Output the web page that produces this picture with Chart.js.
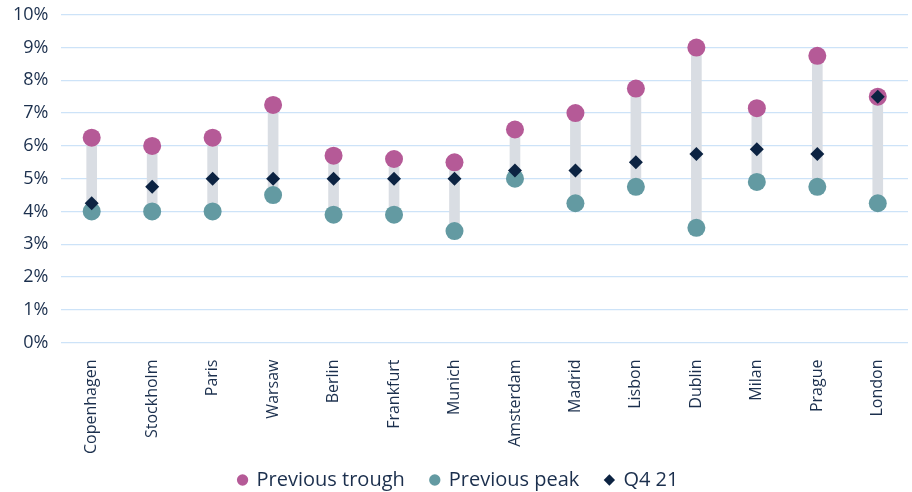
<!DOCTYPE html>
<html>
<head>
<meta charset="utf-8">
<script src="https://cdn.jsdelivr.net/npm/chart.js@4/dist/chart.umd.min.js"></script>
<style>
  html, body { margin: 0; padding: 0; background: #ffffff; overflow: hidden; }
  #wrap { width: 912px; height: 492px; overflow: hidden; position: relative; }
  #c { position: absolute; left: 0; top: -9px; }
</style>
</head>
<body>
<div id="wrap"><canvas id="c" width="917" height="501"></canvas></div>
<script>
// Prime office yields by city (%)
const cities = ["Copenhagen", "Stockholm", "Paris", "Warsaw", "Berlin", "Frankfurt", "Munich",
                "Amsterdam", "Madrid", "Lisbon", "Dublin", "Milan", "Prague", "London"];
const previousTrough = [6.25, 6.0, 6.25, 7.25, 5.7, 5.6, 5.5, 6.5, 7.0, 7.75, 9.0, 7.15, 8.75, 7.5];
const previousPeak   = [4.0, 4.0, 4.0, 4.5, 3.9, 3.9, 3.4, 5.0, 4.25, 4.75, 3.5, 4.9, 4.75, 4.25];
const q4_21          = [4.25, 4.75, 5.0, 5.0, 5.0, 5.0, 5.0, 5.25, 5.25, 5.5, 5.75, 5.9, 5.75, 7.5];
const yTicks = [0, 1, 2, 3, 4, 5, 6, 7, 8, 9, 10];

// Range bar spanning all three readings for each city
const ranges = cities.map((_, i) => {
  const vals = [previousTrough[i], previousPeak[i], q4_21[i]];
  return [Math.min(...vals), Math.max(...vals)];
});

const textColor = "#1b2f4d";
const font = "'Open Sans', 'Noto Sans', sans-serif";

// Keep wide gaps between legend items while trimming the legend's vertical footprint
const LEGEND_TRIM = 21;
const LEGEND_LIFT = 19;
const compactLegend = {
  id: "compactLegend",
  beforeLayout(chart) {
    const lg = chart.legend;
    if (!lg || lg._compact) return;
    lg._compact = true;
    const fit = lg.fit;
    lg.fit = function () {
      fit.call(this);
      this.height = Math.max(0, this.height - LEGEND_TRIM);
    };
    const draw = lg.draw;
    lg.draw = function () {
      this.top -= LEGEND_LIFT;
      draw.call(this);
      this.top += LEGEND_LIFT;
    };
  }
};

new Chart(document.getElementById("c"), {
  type: "bar",
  data: {
    labels: cities,
    datasets: [
      {
        label: "range",
        data: ranges,
        backgroundColor: "#d9dde3",
        borderWidth: 0,
        barThickness: 10,
        order: 4
      },
      {
        type: "line",
        label: "Previous trough",
        data: previousTrough,
        showLine: false,
        pointStyle: "circle",
        pointRadius: 9,
        pointHoverRadius: 9,
        backgroundColor: "#b55a97",
        borderColor: "#b55a97",
        borderWidth: 0,
        order: 3
      },
      {
        type: "line",
        label: "Previous peak",
        data: previousPeak,
        showLine: false,
        pointStyle: "circle",
        pointRadius: 9,
        pointHoverRadius: 9,
        backgroundColor: "#639aa2",
        borderColor: "#639aa2",
        borderWidth: 0,
        order: 2
      },
      {
        type: "line",
        label: "Q4 21",
        data: q4_21,
        showLine: false,
        pointStyle: "rectRot",
        pointRadius: 7,
        pointHoverRadius: 7,
        backgroundColor: "#0c2342",
        borderColor: "#0c2342",
        borderWidth: 0,
        order: 1
      }
    ]
  },
  plugins: [compactLegend],
  options: {
    responsive: false,
    animation: false,
    layout: { padding: { left: 0, right: 0, top: -15, bottom: -6 } },
    plugins: {
      tooltip: { enabled: false },
      legend: {
        position: "bottom",
        labels: {
          filter: (item) => item.text !== "range",
          sort: (a, b) => a.datasetIndex - b.datasetIndex,
          usePointStyle: true,
          boxWidth: 8,
          boxHeight: 8,
          padding: 26,
          color: textColor,
          font: { family: font, size: 20 }
        }
      }
    },
    scales: {
      x: {
        offset: true,
        grid: { display: false },
        border: { display: false },
        ticks: {
          color: textColor,
          font: { family: font, size: 16 },
          minRotation: 90,
          maxRotation: 90,
          padding: 9
        }
      },
      y: {
        min: 0,
        max: 10,
        afterBuildTicks: (axis) => { axis.ticks = yTicks.map(v => ({ value: v })); },
        grid: { color: "#cde3f8", lineWidth: 1.3, drawTicks: false },
        border: { display: false },
        ticks: {
          color: textColor,
          font: { family: font, size: 18 },
          padding: 13,
          callback: (v) => v + "%"
        }
      }
    }
  }
});
</script>
</body>
</html>
